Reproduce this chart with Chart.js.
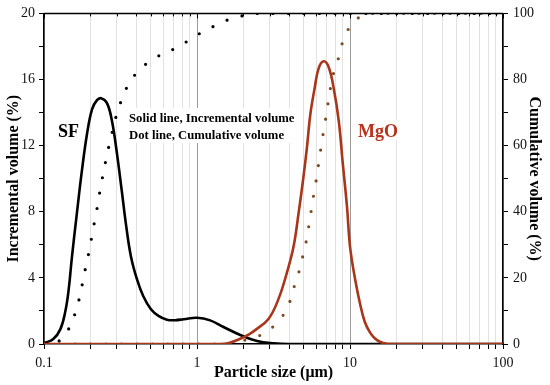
<!DOCTYPE html>
<html><head><meta charset="utf-8">
<script src="https://cdn.jsdelivr.net/npm/chart.js@4/dist/chart.umd.min.js"></script>
<style>html,body{margin:0;padding:0;background:#fff}</style>
</head><body>
<canvas id="c" width="550" height="385"></canvas>
<script>
// ---- data ----
const sfIncSize = [0.1, 0.115, 0.128, 0.138, 0.145, 0.152, 0.164, 0.177, 0.191, 0.206, 0.222, 0.236, 0.258, 0.278, 0.30, 0.323, 0.345, 0.37, 0.405, 0.445, 0.5, 0.56, 0.636, 0.72, 0.82, 1.0, 1.22, 1.49, 1.92, 2.47, 3.17, 4.0, 100];
const sfInc     = [0.05, 0.3, 0.9, 2.0, 3.3, 5.2, 7.9, 10.5, 12.7, 14.2, 14.75, 14.87, 14.57, 13.5, 11.5, 9.2, 7.1, 5.3, 3.92, 2.9, 2.1, 1.7, 1.47, 1.44, 1.5, 1.59, 1.43, 1.03, 0.54, 0.18, 0.04, 0, 0];

const sfCumSize = [0.1, 0.12, 0.134, 0.152, 0.163, 0.173, 0.18, 0.188, 0.197, 0.205, 0.213, 0.222, 0.23, 0.239, 0.249, 0.26, 0.274, 0.288, 0.306, 0.331, 0.368, 0.443, 0.545, 0.69, 0.853, 1.04, 1.3, 1.63, 2.05, 2.58, 100];
const sfCum     = [0, 0.5, 2.2, 6.5, 10.8, 15.1, 19.4, 23.6, 28.0, 32.3, 36.5, 40.9, 45.2, 49.5, 53.7, 58.0, 62.4, 66.8, 71.0, 75.3, 79.6, 83.9, 86.8, 89.0, 91.4, 93.9, 96.2, 98.2, 99.4, 100, 100];

const mgoIncSize = [0.1, 1.4, 1.6, 1.9, 2.2, 2.4, 2.94, 3.41, 3.87, 4.28, 4.61, 4.93, 5.23, 5.5, 5.87, 6.23, 6.72, 7.25, 7.83, 8.45, 8.98, 9.56, 10.0, 10.8, 11.7, 12.5, 13.5, 14.5, 15.8, 17.5, 20, 100];
const mgoInc     = [0, 0, 0.05, 0.3, 0.6, 0.84, 1.53, 2.73, 4.32, 5.91, 7.9, 9.89, 11.88, 13.87, 15.46, 16.66, 17.1, 16.76, 15.46, 13.47, 10.88, 8.3, 5.91, 3.92, 2.33, 1.33, 0.7, 0.35, 0.12, 0.02, 0, 0];

const mgoCumSize = [0.1, 1.6, 2.22, 2.79, 3.47, 3.94, 4.21, 4.53, 4.78, 5.04, 5.26, 5.44, 5.63, 5.82, 6.04, 6.23, 6.43, 6.65, 6.88, 7.12, 7.37, 7.62, 8.2, 8.65, 9.3, 10.6, 13.5, 100];
const mgoCum     = [0, 0, 1.7, 3.4, 7.4, 11.4, 15.9, 20.1, 24.4, 28.6, 32.8, 37.2, 41.5, 45.8, 50.1, 54.4, 58.7, 63.1, 67.2, 71.6, 75.8, 80.3, 84.5, 89.0, 93.2, 97.5, 100, 100];

const xTickLabels = ['0.1', '1', '10', '100'];
const yLeftTickLabels = ['0', '4', '8', '12', '16', '20'];
const yRightTickLabels = ['0', '20', '40', '60', '80', '100'];

// ---- helpers ----
const pts = (xs, ys) => xs.map((x, i) => ({x: x, y: ys[i]}));
const xTickValues = [];
[0.1, 1, 10].forEach(d => { for (let m = 1; m <= 9; m++) xTickValues.push(+(d * m).toPrecision(6)); });
xTickValues.push(100);
const isDecade = v => Math.abs(Math.log10(v) - Math.round(Math.log10(v))) < 1e-6;

const SERIF = "'Liberation Serif', 'Times New Roman', serif";
const RED = '#a8361a';
const BROWN = '#7d4a22';

const deco = {
  id: 'deco',
  beforeDatasetsDraw(chart) {
    const c = chart.ctx;
    c.save();
    c.fillStyle = '#fff';
    c.fillRect(126, 108, 173, 35);
    c.fillRect(56, 120, 27, 20);
    c.fillRect(355, 120, 48, 20);
    c.restore();
  },
  afterDatasetsDraw(chart) {
    const c = chart.ctx, a = chart.chartArea, xs = chart.scales.x;
    c.save();
    // top frame and inward ticks
    c.strokeStyle = '#000';
    c.lineWidth = 1.5;
    c.beginPath();
    c.moveTo(a.left, a.top); c.lineTo(a.right, a.top);
    c.stroke();
    c.lineWidth = 1;
    xTickValues.forEach(v => {
      const px = Math.round(xs.getPixelForValue(v)) + 0.5;
      c.beginPath(); c.moveTo(px, a.top); c.lineTo(px, a.top + (isDecade(v) ? 5 : 3)); c.stroke();
    });
    // annotations
    c.fillStyle = '#000';
    c.textBaseline = 'alphabetic';
    c.font = 'bold 18px ' + SERIF;
    c.fillText('SF', 58, 137);
    c.font = 'bold 12.7px ' + SERIF;
    c.fillText('Solid line, Incremental volume', 129, 122);
    c.fillText('Dot line, Cumulative volume', 129, 138.5);
    c.fillStyle = '#b8321c';
    c.font = 'bold 18px ' + SERIF;
    c.fillText('MgO', 358, 137);
    c.restore();
  }
};

const lineBase = {pointRadius: 0, tension: 0.4, fill: false};

new Chart(document.getElementById('c'), {
  type: 'line',
  data: {
    datasets: [
      Object.assign({label: 'MgO incremental', data: pts(mgoIncSize, mgoInc), yAxisID: 'y', borderColor: RED, borderWidth: 2.6}, lineBase),
      Object.assign({label: 'MgO cumulative', data: pts(mgoCumSize, mgoCum), yAxisID: 'y1', borderColor: BROWN, borderWidth: 3.2, borderDash: [0, 15.5], borderCapStyle: 'round'}, lineBase),
      Object.assign({label: 'SF incremental', data: pts(sfIncSize, sfInc), yAxisID: 'y', borderColor: '#000', borderWidth: 2.6}, lineBase),
      Object.assign({label: 'SF cumulative', data: pts(sfCumSize, sfCum), yAxisID: 'y1', borderColor: '#000', borderWidth: 3.2, borderDash: [0, 15.5], borderCapStyle: 'round'}, lineBase)
    ]
  },
  options: {
    responsive: false,
    animation: false,
    devicePixelRatio: 1,
    layout: {padding: {top: 9, left: 0, right: 0, bottom: 0}},
    plugins: {legend: {display: false}, tooltip: {enabled: false}},
    scales: {
      x: {
        type: 'logarithmic', min: 0.1, max: 100, position: 'bottom',
        afterBuildTicks: s => { s.ticks = xTickValues.map(v => ({value: v, major: isDecade(v)})); },
        afterFit: s => { s.height = 41; },
        ticks: {
          autoSkip: false, maxRotation: 0, padding: 6,
          font: {family: SERIF, size: 14}, color: '#111',
          callback: v => isDecade(v) ? xTickLabels[Math.round(Math.log10(v)) + 1] : ''
        },
        grid: {
          color: c => isDecade(c.tick.value) ? '#9c9c9c' : '#e2e2e2',
          lineWidth: 1, tickColor: '#000', tickLength: 5, drawTicks: true
        },
        border: {display: true, color: '#000', width: 1.5},
        title: {display: true, text: 'Particle size (\u03bcm)', font: {family: SERIF, size: 16, weight: 'bold'}, color: '#000', padding: {top: 0, bottom: 3}}
      },
      y: {
        type: 'linear', min: 0, max: 20, position: 'left',
        afterBuildTicks: s => { const t = []; for (let v = 0; v <= 20; v += 2) t.push({value: v}); s.ticks = t; },
        afterFit: s => { s.width = 44; },
        ticks: {
          autoSkip: false, padding: 4,
          font: {family: SERIF, size: 14}, color: '#111',
          callback: v => v % 4 === 0 ? yLeftTickLabels[v / 4] : ''
        },
        grid: {drawOnChartArea: false, tickColor: '#000', tickLength: 5},
        border: {display: true, color: '#000', width: 1.5},
        title: {display: true, text: 'Incremental volume (%)', font: {family: SERIF, size: 16, weight: 'bold'}, color: '#000', padding: {top: 4, bottom: 0}}
      },
      y1: {
        type: 'linear', min: 0, max: 100, position: 'right',
        afterBuildTicks: s => { const t = []; for (let v = 0; v <= 100; v += 10) t.push({value: v}); s.ticks = t; },
        afterFit: s => { s.width = 47; },
        ticks: {
          autoSkip: false, padding: 5,
          font: {family: SERIF, size: 14}, color: '#111',
          callback: v => v % 20 === 0 ? yRightTickLabels[v / 20] : ''
        },
        grid: {drawOnChartArea: false, tickColor: '#000', tickLength: 5},
        border: {display: true, color: '#000', width: 1.5},
        title: {display: true, text: 'Cumulative volume (%)', font: {family: SERIF, size: 16, weight: 'bold'}, color: '#000', padding: {top: 6, bottom: 0}}
      }
    }
  },
  plugins: [deco]
});
</script>
</body></html>
